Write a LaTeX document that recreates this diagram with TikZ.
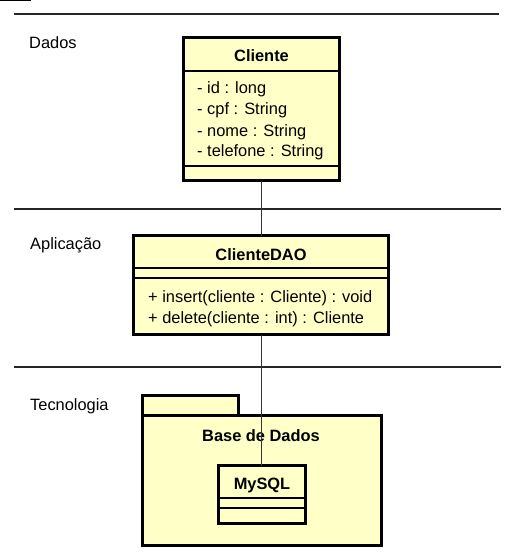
\documentclass[tikz,border=0pt]{standalone}
\usepackage{fontspec}
\setmainfont{Liberation Sans}
\definecolor{umlfill}{HTML}{FFFFC8}
\begin{document}
\begin{tikzpicture}[x=1pt,y=-1pt,
  umlbox/.style={draw=black, line width=3pt, fill=umlfill, inner sep=0pt, outer sep=0pt},
  sepline/.style={line width=1.3pt},
  lane/.style={line width=1.4pt, draw=black!85},
  lbl/.style={font=\fontsize{16.4}{19}\selectfont, inner sep=0pt, anchor=base west},
  ttl/.style={font=\fontsize{16.4}{19}\selectfont\bfseries, inner sep=0pt, anchor=base},
  conn/.style={line width=1pt, draw=black!80}]
\useasboundingbox (0,0) rectangle (515,559);
\fill[white] (0,0) rectangle (515,559);

% corner mark and lane separators
\coordinate (c1) at (0,1);
\coordinate (c2) at (31,1);
\draw[line width=1pt] (c1) -- (c2);
\coordinate (l1a) at (14,14);  \coordinate (l1b) at (499,14);
\coordinate (l2a) at (14,209); \coordinate (l2b) at (501,209);
\coordinate (l3a) at (14,367); \coordinate (l3b) at (501,367);
\draw[lane] (l1a) -- (l1b);
\draw[lane] (l2a) -- (l2b);
\draw[lane] (l3a) -- (l3b);

% lane labels
\node[lbl] (dados) at (29,49) {Dados};
\node[lbl] (aplic) at (30,249) {Aplicação};
\node[lbl] (tecno) at (30,410) {Tecnologia};

% Cliente
\node[umlbox, minimum width=156, minimum height=143] (Cliente) at (261.5,109) {};
\draw[sepline] (Cliente.west |- 0,71) -- (Cliente.east |- 0,71);
\draw[sepline] (Cliente.west |- 0,166) -- (Cliente.east |- 0,166);
\node[ttl] (clienteT) at (261.5,61.5) {Cliente};
\node[lbl] (a1) at (197,94) {- id : long};
\node[lbl] (a2) at (197,115) {- cpf : String};
\node[lbl] (a3) at (197,136) {- nome : String};
\node[lbl] (a4) at (197,157) {- telefone : String};

% ClienteDAO
\node[umlbox, minimum width=255, minimum height=99] (DAO) at (261,285) {};
\draw[sepline] (DAO.west |- 0,268) -- (DAO.east |- 0,268);
\draw[sepline] (DAO.west |- 0,278) -- (DAO.east |- 0,278);
\node[ttl] (daoT) at (261,260) {ClienteDAO};
\node[lbl] (m1) at (148,302.5) {+ insert(cliente : Cliente) : void};
\node[lbl] (m2) at (148,323.5) {+ delete(cliente : int) : Cliente};

% Package Base de Dados
\node[umlbox, minimum width=96, minimum height=20] (tab) at (190.5,405.5) {};
\node[umlbox, minimum width=239, minimum height=130] (pkg) at (262,480.5) {};
\node[ttl] (pkgT) at (261,441) {Base de Dados};

% MySQL
\node[umlbox, minimum width=87, minimum height=58] (MySQL) at (262,494.5) {};
\draw[sepline] (MySQL.west |- 0,498) -- (MySQL.east |- 0,498);
\draw[sepline] (MySQL.west |- 0,508) -- (MySQL.east |- 0,508);
\node[ttl] (mysqlT) at (262,489) {MySQL};

% connectors
\draw[conn] (Cliente.south -| 261,0) -- (DAO.north -| 261,0);
\draw[conn] (DAO.south -| 261,0) -- (MySQL.north -| 261,0);
\end{tikzpicture}
\end{document}
